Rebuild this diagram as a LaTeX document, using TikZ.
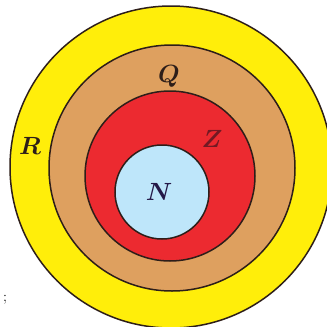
\documentclass[tikz,border=0pt]{standalone}
\usepackage{amsmath}
\usepackage{amssymb}
\usepackage{tikz}

\definecolor{ringR}{RGB}{255,238,10}
\definecolor{ringQ}{RGB}{222,160,95}
\definecolor{ringZ}{RGB}{236,42,48}
\definecolor{ringN}{RGB}{190,230,250}
\definecolor{edge}{RGB}{45,30,25}
\definecolor{zlab}{RGB}{115,25,35}

\tikzset{
    ring/.style={draw=edge, line width=1.5pt},
    setlabel/.style={inner sep=0pt, font=\fontsize{30}{34}\selectfont}
}

\begin{document}
\begin{tikzpicture}[x={(1pt,0pt)}, y={(0pt,-1pt)}]
        \useasboundingbox (0,0) rectangle (327,327);
        % nested number sets
        \draw[ring, fill=ringR] (171,167) circle (161);
        \draw[ring, fill=ringQ] (172,168) circle (123);
        \draw[ring, fill=ringZ] (170,176) circle (85);
        \draw[ring, fill=ringN] (162,192) circle (47);
        \node[setlabel, text=edge] (R) at (30,146) {$\boldsymbol{R}$};
        \node[setlabel, text=edge] (Q) at (169,76) {$\boldsymbol{Q}$};
        \node[setlabel, text=zlab] (Z) at (212,139) {$\boldsymbol{Z}$};
        \node[setlabel, text=edge!80!blue] (N) at (159,192) {$\boldsymbol{N}$};
        \node[inner sep=0pt, font=\Large] (semi) at (5,300) {;};
    \end{tikzpicture}
\end{document}
